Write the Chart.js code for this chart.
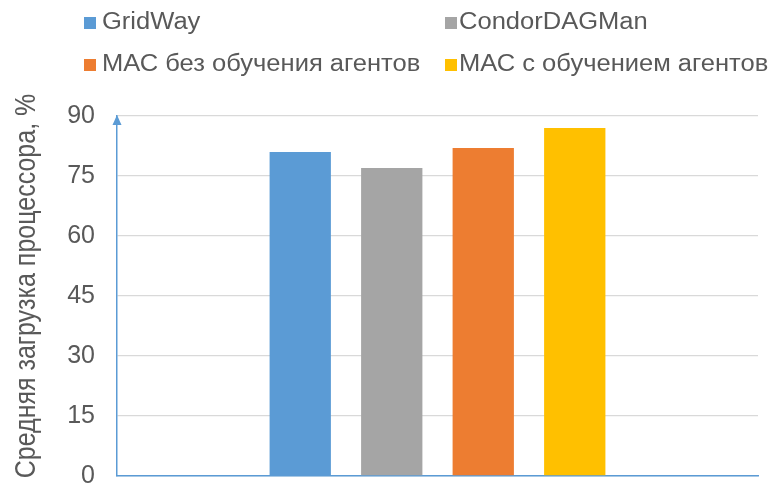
<!DOCTYPE html>
<html><head><meta charset="utf-8">
<script src="https://cdn.jsdelivr.net/npm/chart.js@4.4.0/dist/chart.umd.min.js"></script>
<style>
html,body{margin:0;padding:0;background:#fff;}
canvas{display:block;}
</style></head>
<body><canvas id="c" width="770" height="486"></canvas>
<script>
const categories = [''];
const seriesNames = ['GridWay', 'CondorDAGMan', 'МАС без обучения агентов', 'МАС с обучением агентов'];
const gridWay = [81];
const condorDAGMan = [77];
const macNoLearning = [82];
const macLearning = [87];
const yTicks = [0, 15, 30, 45, 60, 75, 90];
const yTitle = 'Средняя загрузка процессора, %';
const colors = ['#5B9BD5', '#A5A5A5', '#ED7D31', '#FFC000'];
const seriesValues = [gridWay, condorDAGMan, macNoLearning, macLearning];

const FONT = '"Liberation Sans", Arial, sans-serif';
const TEXT = '#595959';

const decorPlugin = {
  id: 'decor',
  afterDraw(chart) {
    const ctx = chart.ctx, a = chart.chartArea;
    ctx.save();
    // arrow on y axis
    const x = chart.scales.y.right;
    ctx.fillStyle = '#5B9BD5';
    ctx.beginPath();
    ctx.moveTo(x, a.top - 1);
    ctx.lineTo(x - 4.5, a.top + 9);
    ctx.lineTo(x + 4.5, a.top + 9);
    ctx.closePath();
    ctx.fill();
    // y axis title
    ctx.save();
    ctx.translate(35, 286);
    ctx.rotate(-Math.PI / 2);
    ctx.scale(1, 1.2);
    ctx.font = '25px ' + FONT;
    ctx.fillStyle = TEXT;
    ctx.textAlign = 'center';
    ctx.textBaseline = 'alphabetic';
    ctx.fillText(yTitle, 0, 0);
    ctx.restore();
    // legend (2 x 2 grid)
    const boxX = [84, 445], textX = [102, 459], base = [29, 71];
    chart.data.datasets.forEach((d, i) => {
      const col = i % 2, row = Math.floor(i / 2);
      ctx.fillStyle = d.backgroundColor;
      ctx.fillRect(boxX[col], base[row] - 12, 12, 12);
      ctx.save();
      ctx.translate(textX[col], base[row]);
      ctx.scale(1.11, 1);
      ctx.font = '23px ' + FONT;
      ctx.fillStyle = TEXT;
      ctx.textAlign = 'left';
      ctx.textBaseline = 'alphabetic';
      ctx.fillText(d.label, 0, 0);
      ctx.restore();
    });
    ctx.restore();
  }
};

const chart = new Chart(document.getElementById('c'), {
  type: 'bar',
  data: {
    labels: categories,
    datasets: seriesNames.map((n, i) => ({
      label: n,
      data: seriesValues[i],
      backgroundColor: colors[i],
      borderWidth: 0,
      categoryPercentage: 0.571,
      barPercentage: 0.67
    }))
  },
  options: {
    responsive: false,
    animation: false,
    devicePixelRatio: 1,
    layout: { padding: { top: 116, right: 12, bottom: 10, left: 0 } },
    plugins: { legend: { display: false }, tooltip: { enabled: false } },
    scales: {
      x: {
        grid: { display: false },
        border: { display: true, color: '#5B9BD5', width: 1.5 },
        ticks: { display: false },
        afterFit(scale) { scale.height = 0; }
      },
      y: {
        min: 0, max: 90,
        afterBuildTicks(scale) { scale.ticks = yTicks.map(v => ({ value: v })); },
        afterFit(scale) { scale.width = 117; scale.paddingTop = 0; scale.paddingBottom = 0; },
        grid: { color: '#D9D9D9', lineWidth: 1.3, drawTicks: false },
        border: { display: true, color: '#5B9BD5', width: 1.5 },
        ticks: { color: TEXT, font: { family: FONT, size: 25 }, padding: 22 }
      }
    }
  },
  plugins: [decorPlugin]
});
</script>
</body></html>
